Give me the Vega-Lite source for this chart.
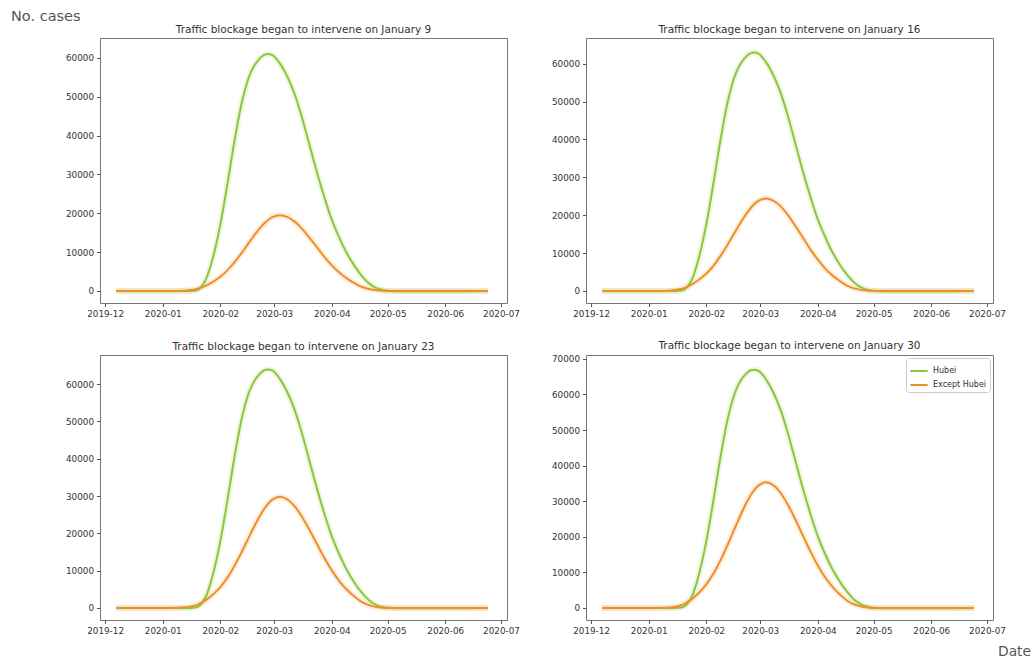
{
  "$schema": "https://vega.github.io/schema/vega-lite/v6.json",
  "background": "white",
  "padding": {"left": 11, "top": 8, "right": 5, "bottom": 5},
  "title": {"text": "No. cases", "anchor": "start", "frame": "bounds", "dx": -54, "fontSize": 14.5, "font": "DejaVu Sans", "fontWeight": "normal", "color": "#555", "offset": 0},
  "data": {"values": [
    {"date": "2019-12-07", "h1": 0, "o1": 0, "h2": 0, "o2": 0, "h3": 0, "o3": 0, "h4": 0, "o4": 0},
    {"date": "2020-01-12", "h1": 0, "o1": 60, "h2": 0, "o2": 70, "h3": 0, "o3": 90, "h4": 0, "o4": 110},
    {"date": "2020-01-16", "h1": 0, "o1": 230, "h2": 0, "o2": 290, "h3": 0, "o3": 360, "h4": 0, "o4": 420},
    {"date": "2020-01-20", "h1": 310, "o1": 590, "h2": 320, "o2": 730, "h3": 320, "o3": 890, "h4": 340, "o4": 1060},
    {"date": "2020-01-24", "h1": 2750, "o1": 1330, "h2": 2840, "o2": 1660, "h3": 2880, "o3": 2030, "h4": 3020, "o4": 2400},
    {"date": "2020-01-28", "h1": 8540, "o1": 2360, "h2": 8820, "o2": 2950, "h3": 8960, "o3": 3610, "h4": 9380, "o4": 4270},
    {"date": "2020-02-01", "h1": 17080, "o1": 3670, "h2": 17640, "o2": 4590, "h3": 17920, "o3": 5600, "h4": 18760, "o4": 6640},
    {"date": "2020-02-05", "h1": 28060, "o1": 5420, "h2": 28980, "o2": 6780, "h3": 29440, "o3": 8280, "h4": 30820, "o4": 9810},
    {"date": "2020-02-09", "h1": 39650, "o1": 7620, "h2": 40950, "o2": 9540, "h3": 41600, "o3": 11650, "h4": 43550, "o4": 13800},
    {"date": "2020-02-13", "h1": 49410, "o1": 10140, "h2": 51030, "o2": 12690, "h3": 51840, "o3": 15500, "h4": 54270, "o4": 18360},
    {"date": "2020-02-17", "h1": 55820, "o1": 12830, "h2": 57650, "o2": 16060, "h3": 58560, "o3": 19610, "h4": 61310, "o4": 23230},
    {"date": "2020-02-21", "h1": 59170, "o1": 15410, "h2": 61110, "o2": 19280, "h3": 62080, "o3": 23540, "h4": 64990, "o4": 27890},
    {"date": "2020-02-25", "h1": 60820, "o1": 17570, "h2": 62810, "o2": 21980, "h3": 63810, "o3": 26850, "h4": 66800, "o4": 31810},
    {"date": "2020-02-29", "h1": 60700, "o1": 18990, "h2": 62690, "o2": 23770, "h3": 63680, "o3": 29030, "h4": 66670, "o4": 34380},
    {"date": "2020-03-04", "h1": 58560, "o1": 19500, "h2": 60480, "o2": 24400, "h3": 61440, "o3": 29800, "h4": 64320, "o4": 35300},
    {"date": "2020-03-08", "h1": 55210, "o1": 19070, "h2": 57020, "o2": 23860, "h3": 57920, "o3": 29140, "h4": 60640, "o4": 34520},
    {"date": "2020-03-12", "h1": 50630, "o1": 17840, "h2": 52290, "o2": 22330, "h3": 53120, "o3": 27270, "h4": 55610, "o4": 32300},
    {"date": "2020-03-16", "h1": 44530, "o1": 15970, "h2": 45990, "o2": 19980, "h3": 46720, "o3": 24410, "h4": 48910, "o4": 28910},
    {"date": "2020-03-20", "h1": 37520, "o1": 13670, "h2": 38750, "o2": 17100, "h3": 39360, "o3": 20890, "h4": 41210, "o4": 24750},
    {"date": "2020-03-24", "h1": 30500, "o1": 11210, "h2": 31500, "o2": 14030, "h3": 32000, "o3": 17140, "h4": 33500, "o4": 20300},
    {"date": "2020-03-28", "h1": 24100, "o1": 8780, "h2": 24890, "o2": 10980, "h3": 25280, "o3": 13410, "h4": 26470, "o4": 15890},
    {"date": "2020-04-01", "h1": 18300, "o1": 6590, "h2": 18900, "o2": 8250, "h3": 19200, "o3": 10070, "h4": 20100, "o4": 11930},
    {"date": "2020-04-05", "h1": 13730, "o1": 4720, "h2": 14180, "o2": 5900, "h3": 14400, "o3": 7210, "h4": 15080, "o4": 8540},
    {"date": "2020-04-09", "h1": 9760, "o1": 3240, "h2": 10080, "o2": 4050, "h3": 10240, "o3": 4950, "h4": 10720, "o4": 5860},
    {"date": "2020-04-13", "h1": 6590, "o1": 2050, "h2": 6800, "o2": 2560, "h3": 6910, "o3": 3130, "h4": 7240, "o4": 3710},
    {"date": "2020-04-17", "h1": 3970, "o1": 1070, "h2": 4100, "o2": 1340, "h3": 4160, "o3": 1640, "h4": 4360, "o4": 1940},
    {"date": "2020-04-21", "h1": 1950, "o1": 490, "h2": 2020, "o2": 610, "h3": 2050, "o3": 750, "h4": 2140, "o4": 880},
    {"date": "2020-04-25", "h1": 730, "o1": 180, "h2": 760, "o2": 220, "h3": 770, "o3": 270, "h4": 800, "o4": 320},
    {"date": "2020-04-29", "h1": 180, "o1": 40, "h2": 190, "o2": 50, "h3": 190, "o3": 60, "h4": 200, "o4": 70},
    {"date": "2020-05-03", "h1": 0, "o1": 0, "h2": 0, "o2": 0, "h3": 0, "o3": 0, "h4": 0, "o4": 0},
    {"date": "2020-06-24", "h1": 0, "o1": 0, "h2": 0, "o2": 0, "h3": 0, "o3": 0, "h4": 0, "o4": 0}
  ]},
  "columns": 2,
  "align": "each",
  "spacing": {"row": 21, "column": 31},
  "resolve": {"scale": {"color": "independent", "y": "independent", "x": "independent"}, "legend": {"color": "independent"}, "axis": {"x": "independent", "y": "independent"}},
  "concat": [
    {
      "width": 407, "height": 265,
      "title": "Traffic blockage began to intervene on January 9",
      "transform": [{"fold": ["h1", "o1"], "as": ["series", "v"]}],
      "encoding": {
        "x": {"field": "date", "type": "temporal", "scale": {"type": "utc", "domain": [{"year": 2019, "month": 11, "date": 28, "hours": 6, "utc": true}, {"year": 2020, "month": 7, "date": 4, "hours": 6, "utc": true}]}, "axis": {"title": null, "format": "%Y-%m", "tickCount": {"interval": "month", "step": 1}, "labelOverlap": false, "labelFlush": false}},
        "y": {"field": "v", "type": "quantitative", "scale": {"domain": [-3100, 65100], "nice": false, "zero": false}, "axis": {"title": null, "values": [0, 10000, 20000, 30000, 40000, 50000, 60000], "format": "d"}},
        "color": {"field": "series", "type": "nominal", "scale": {"domain": ["h1", "o1"], "range": ["#8cc63e", "#ef8f2a"]}, "legend": null}
      },
      "layer": [
        {"mark": {"type": "line", "strokeWidth": 6, "opacity": 0.15, "interpolate": "catmull-rom"}},
        {"mark": {"type": "line", "strokeWidth": 2, "interpolate": "catmull-rom"}}
      ]
    },
    {
      "width": 407, "height": 265,
      "title": "Traffic blockage began to intervene on January 16",
      "transform": [{"fold": ["h2", "o2"], "as": ["series", "v"]}],
      "encoding": {
        "x": {"field": "date", "type": "temporal", "scale": {"type": "utc", "domain": [{"year": 2019, "month": 11, "date": 28, "hours": 6, "utc": true}, {"year": 2020, "month": 7, "date": 4, "hours": 6, "utc": true}]}, "axis": {"title": null, "format": "%Y-%m", "tickCount": {"interval": "month", "step": 1}, "labelOverlap": false, "labelFlush": false}},
        "y": {"field": "v", "type": "quantitative", "scale": {"domain": [-3180, 66800], "nice": false, "zero": false}, "axis": {"title": null, "values": [0, 10000, 20000, 30000, 40000, 50000, 60000], "format": "d"}},
        "color": {"field": "series", "type": "nominal", "scale": {"domain": ["h2", "o2"], "range": ["#8cc63e", "#ef8f2a"]}, "legend": null}
      },
      "layer": [
        {"mark": {"type": "line", "strokeWidth": 6, "opacity": 0.15, "interpolate": "catmull-rom"}},
        {"mark": {"type": "line", "strokeWidth": 2, "interpolate": "catmull-rom"}}
      ]
    },
    {
      "width": 407, "height": 265,
      "title": "Traffic blockage began to intervene on January 23",
      "transform": [{"fold": ["h3", "o3"], "as": ["series", "v"]}],
      "encoding": {
        "x": {"field": "date", "type": "temporal", "scale": {"type": "utc", "domain": [{"year": 2019, "month": 11, "date": 28, "hours": 6, "utc": true}, {"year": 2020, "month": 7, "date": 4, "hours": 6, "utc": true}]}, "axis": {"title": null, "format": "%Y-%m", "tickCount": {"interval": "month", "step": 1}, "labelOverlap": false, "labelFlush": false}},
        "y": {"field": "v", "type": "quantitative", "scale": {"domain": [-3230, 67830], "nice": false, "zero": false}, "axis": {"title": null, "values": [0, 10000, 20000, 30000, 40000, 50000, 60000], "format": "d"}},
        "color": {"field": "series", "type": "nominal", "scale": {"domain": ["h3", "o3"], "range": ["#8cc63e", "#ef8f2a"]}, "legend": null}
      },
      "layer": [
        {"mark": {"type": "line", "strokeWidth": 6, "opacity": 0.15, "interpolate": "catmull-rom"}},
        {"mark": {"type": "line", "strokeWidth": 2, "interpolate": "catmull-rom"}}
      ]
    },
    {
      "width": 407, "height": 265,
      "title": "Traffic blockage began to intervene on January 30",
      "transform": [{"fold": ["h4", "o4"], "as": ["series", "v"]}],
      "encoding": {
        "x": {"field": "date", "type": "temporal", "scale": {"type": "utc", "domain": [{"year": 2019, "month": 11, "date": 28, "hours": 6, "utc": true}, {"year": 2020, "month": 7, "date": 4, "hours": 6, "utc": true}]}, "axis": {"title": "Date", "titleX": 428, "titleY": 31, "titleAlign": "center", "titleBaseline": "middle", "titleFontSize": 13.8, "titleFontWeight": "normal", "titleColor": "#555", "titleFont": "DejaVu Sans", "format": "%Y-%m", "tickCount": {"interval": "month", "step": 1}, "labelOverlap": false, "labelFlush": false}},
        "y": {"field": "v", "type": "quantitative", "scale": {"domain": [-3400, 71100], "nice": false, "zero": false}, "axis": {"title": null, "values": [0, 10000, 20000, 30000, 40000, 50000, 60000, 70000], "format": "d"}},
        "color": {"field": "series", "type": "nominal", "scale": {"domain": ["h4", "o4"], "range": ["#8cc63e", "#ef8f2a"]}, "legend": {"orient": "top-right", "title": null, "offset": 3, "padding": 3, "strokeColor": "#ccc", "fillColor": "white", "cornerRadius": 3, "symbolType": "stroke", "symbolStrokeWidth": 2, "symbolSize": 300, "symbolOpacity": 1, "labelFontSize": 8, "labelColor": "#333", "labelFont": "DejaVu Sans", "rowPadding": 0, "labelExpr": "datum.label == 'h4' ? 'Hubei' : 'Except Hubei'"}}
      },
      "layer": [
        {"mark": {"type": "line", "strokeWidth": 6, "opacity": 0.15, "interpolate": "catmull-rom"}},
        {"mark": {"type": "line", "strokeWidth": 2, "interpolate": "catmull-rom"}}
      ]
    }
  ],
  "config": {
    "font": "DejaVu Sans",
    "view": {"stroke": "#777", "strokeWidth": 1},
    "axis": {"labelFont": "DejaVu Sans", "labelFontSize": 8.8, "labelColor": "#333", "tickColor": "#555", "tickSize": 3.5, "domain": false, "grid": false, "labelPadding": 3},
    "title": {"fontSize": 10.5, "font": "DejaVu Sans", "fontWeight": "normal", "color": "#333", "offset": 3}
  }
}
